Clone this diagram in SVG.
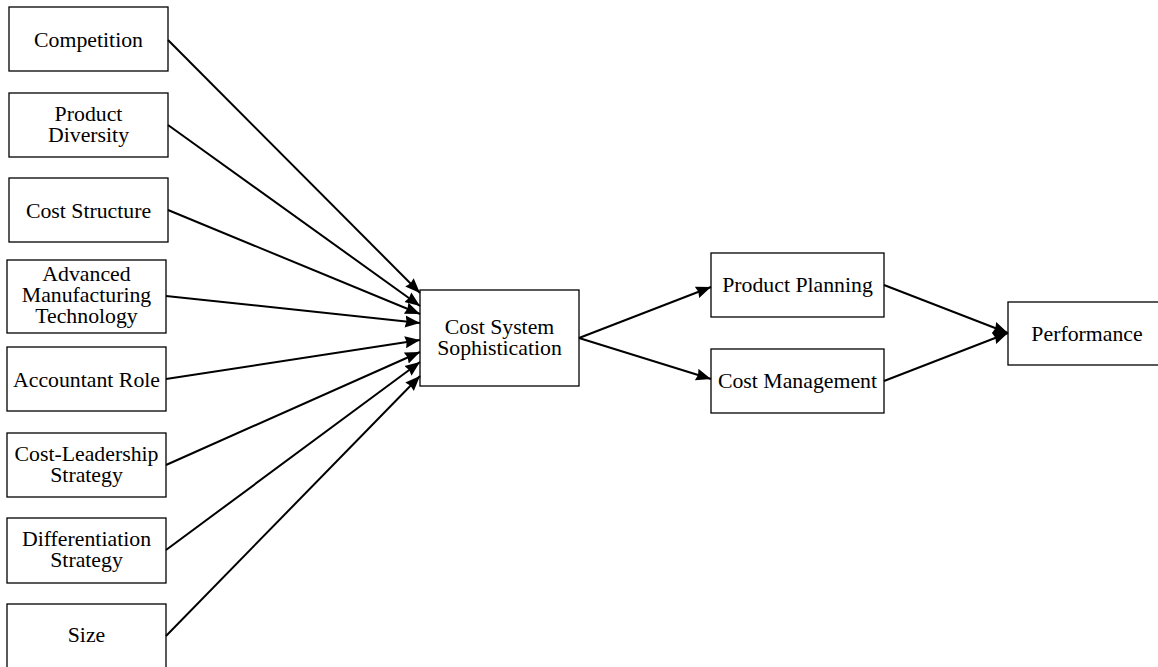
<svg xmlns="http://www.w3.org/2000/svg" width="1158" height="667" viewBox="0 0 1158 667">
  <style>
    .box { fill: #ffffff; stroke: #000000; stroke-width: 1.3; }
    .lbl { font-family: "Liberation Serif", "Times New Roman", serif; font-size: 20px; fill: #000000; text-anchor: middle; }
    .edge { fill: none; stroke: #000000; stroke-width: 2; marker-end: url(#head); }
  </style>
  <defs>
    <marker id="head" markerUnits="userSpaceOnUse" markerWidth="16" markerHeight="13" refX="15" refY="6.5" orient="auto">
      <path d="M0,0.5 L15,6.5 L0,12.5 L1.5,6.5 z" fill="#000000"/>
    </marker>
  </defs>
  <rect width="1158" height="667" fill="#ffffff"/>

  <!-- antecedent factors -->
  <g id="competition">
    <rect class="box" x="9" y="7" width="159" height="64"/>
    <text class="lbl" transform="translate(88.5,46.5) scale(1.09,1)">Competition</text>
  </g>
  <g id="product-diversity">
    <rect class="box" x="9" y="93" width="159" height="64"/>
    <text class="lbl" transform="translate(88.5,120.5) scale(1.09,1)"><tspan x="0" y="0">Product</tspan><tspan x="0" y="21.5">Diversity</tspan></text>
  </g>
  <g id="cost-structure">
    <rect class="box" x="9" y="178" width="159" height="64"/>
    <text class="lbl" transform="translate(88.5,217.5) scale(1.09,1)">Cost Structure</text>
  </g>
  <g id="amt">
    <rect class="box" x="7" y="260" width="159" height="73"/>
    <text class="lbl" transform="translate(86.5,280.5) scale(1.09,1)"><tspan x="0" y="0">Advanced</tspan><tspan x="0" y="21.5">Manufacturing</tspan><tspan x="0" y="43">Technology</tspan></text>
  </g>
  <g id="accountant-role">
    <rect class="box" x="7" y="347" width="159" height="64"/>
    <text class="lbl" transform="translate(86.5,386.5) scale(1.09,1)">Accountant Role</text>
  </g>
  <g id="cost-leadership">
    <rect class="box" x="7" y="433" width="159" height="64"/>
    <text class="lbl" transform="translate(86.5,460.5) scale(1.09,1)"><tspan x="0" y="0">Cost-Leadership</tspan><tspan x="0" y="21.5">Strategy</tspan></text>
  </g>
  <g id="differentiation">
    <rect class="box" x="7" y="518" width="159" height="65"/>
    <text class="lbl" transform="translate(86.5,545.5) scale(1.09,1)"><tspan x="0" y="0">Differentiation</tspan><tspan x="0" y="21.5">Strategy</tspan></text>
  </g>
  <g id="size">
    <rect class="box" x="7" y="604" width="159" height="64"/>
    <text class="lbl" transform="translate(86.5,641.5) scale(1.09,1)">Size</text>
  </g>

  <!-- central construct -->
  <g id="cost-system">
    <rect class="box" x="420" y="290" width="159" height="96"/>
    <text class="lbl" transform="translate(499.5,333.5) scale(1.09,1)"><tspan x="0" y="0">Cost System</tspan><tspan x="0" y="21.5">Sophistication</tspan></text>
  </g>

  <!-- outcomes -->
  <g id="product-planning">
    <rect class="box" x="711" y="253" width="173" height="64"/>
    <text class="lbl" transform="translate(797.5,292) scale(1.09,1)">Product Planning</text>
  </g>
  <g id="cost-management">
    <rect class="box" x="711" y="349" width="173" height="64"/>
    <text class="lbl" transform="translate(797.5,387.5) scale(1.09,1)">Cost Management</text>
  </g>
  <g id="performance">
    <rect class="box" x="1008" y="302" width="160" height="63"/>
    <text class="lbl" transform="translate(1087,340.5) scale(1.09,1)">Performance</text>
  </g>

  <!-- connectors -->
  <g id="connectors">
    <line class="edge" x1="168" y1="40" x2="420" y2="293"/>
    <line class="edge" x1="168" y1="125" x2="420" y2="306"/>
    <line class="edge" x1="168" y1="210" x2="420" y2="314"/>
    <line class="edge" x1="166" y1="296" x2="420" y2="323"/>
    <line class="edge" x1="166" y1="379" x2="420" y2="340"/>
    <line class="edge" x1="166" y1="465" x2="420" y2="352"/>
    <line class="edge" x1="166" y1="550" x2="420" y2="362"/>
    <line class="edge" x1="166" y1="636" x2="420" y2="376"/>
    <line class="edge" x1="579" y1="338" x2="711" y2="287"/>
    <line class="edge" x1="579" y1="338" x2="711" y2="379"/>
    <line class="edge" x1="884" y1="285" x2="1008" y2="333"/>
    <line class="edge" x1="884" y1="381" x2="1008" y2="333"/>
  </g>
</svg>
